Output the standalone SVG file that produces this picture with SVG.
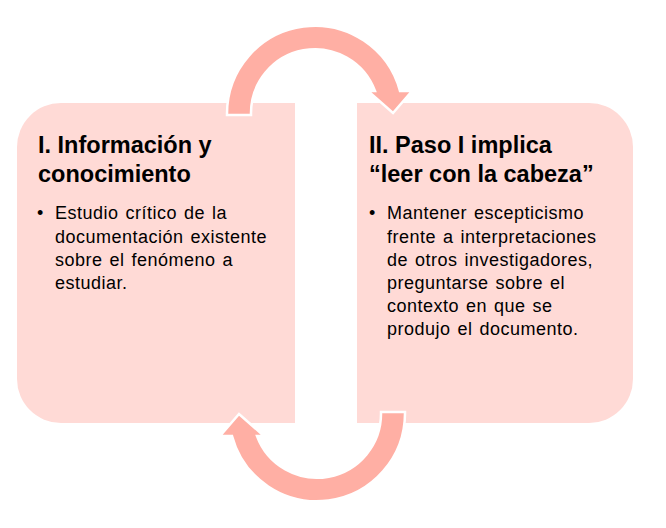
<svg xmlns="http://www.w3.org/2000/svg" width="666" height="528" viewBox="0 0 666 528">
<defs>
<style>
.box{fill:#FFDAD6;}
.arrow{fill:#FFAFA4;stroke:#FFFFFF;stroke-width:2.5;stroke-linejoin:miter;}
.title{font-family:"Liberation Sans",Arial,sans-serif;font-weight:bold;font-size:23.5px;fill:#000000;}
.body{font-family:"Liberation Sans",Arial,sans-serif;font-size:18px;letter-spacing:0.5px;word-spacing:1.5px;fill:#000000;}
</style>
<path id="cycleArrow" class="arrow" d="M227,115 L227,114 A88,88 0 0 1 400,91 L412,91 L393,113 L368,91 L375,91 A64,64 0 0 0 251,114 L251,115 Z"/>
</defs>
<rect width="666" height="528" fill="#FFFFFF"/>
<g id="node-1">
<path class="box" d="M61,103 L295,103 L295,423 L61,423 A44,44 0 0 1 17,379 L17,147 A44,44 0 0 1 61,103 Z"/>
<text class="title" x="38" y="153">I. Información y</text>
<text class="title" x="38" y="182">conocimiento</text>
<text class="body" x="37" y="219">•</text>
<text class="body" x="55" y="219">Estudio crítico de la</text>
<text class="body" x="55" y="242.5">documentación existente</text>
<text class="body" x="55" y="265.5">sobre el fenómeno  a</text>
<text class="body" x="55" y="288.5">estudiar.</text>
</g>
<g id="node-2">
<path class="box" d="M357,103 L589,103 A44,44 0 0 1 633,147 L633,379 A44,44 0 0 1 589,423 L357,423 Z"/>
<text class="title" x="369" y="153">II. Paso I implica</text>
<text class="title" x="369" y="182">“leer con la cabeza”</text>
<text class="body" x="369" y="219">•</text>
<text class="body" x="387" y="219">Mantener escepticismo</text>
<text class="body" x="387" y="242.5">frente a interpretaciones</text>
<text class="body" x="387" y="265.5">de otros investigadores,</text>
<text class="body" x="387" y="289">preguntarse sobre el</text>
<text class="body" x="387" y="312">contexto en que se</text>
<text class="body" x="387" y="335">produjo el documento.</text>
</g>
<g id="connectors">
<use href="#cycleArrow"/>
<use href="#cycleArrow" transform="rotate(180 316 263.5)"/>
</g>
</svg>
